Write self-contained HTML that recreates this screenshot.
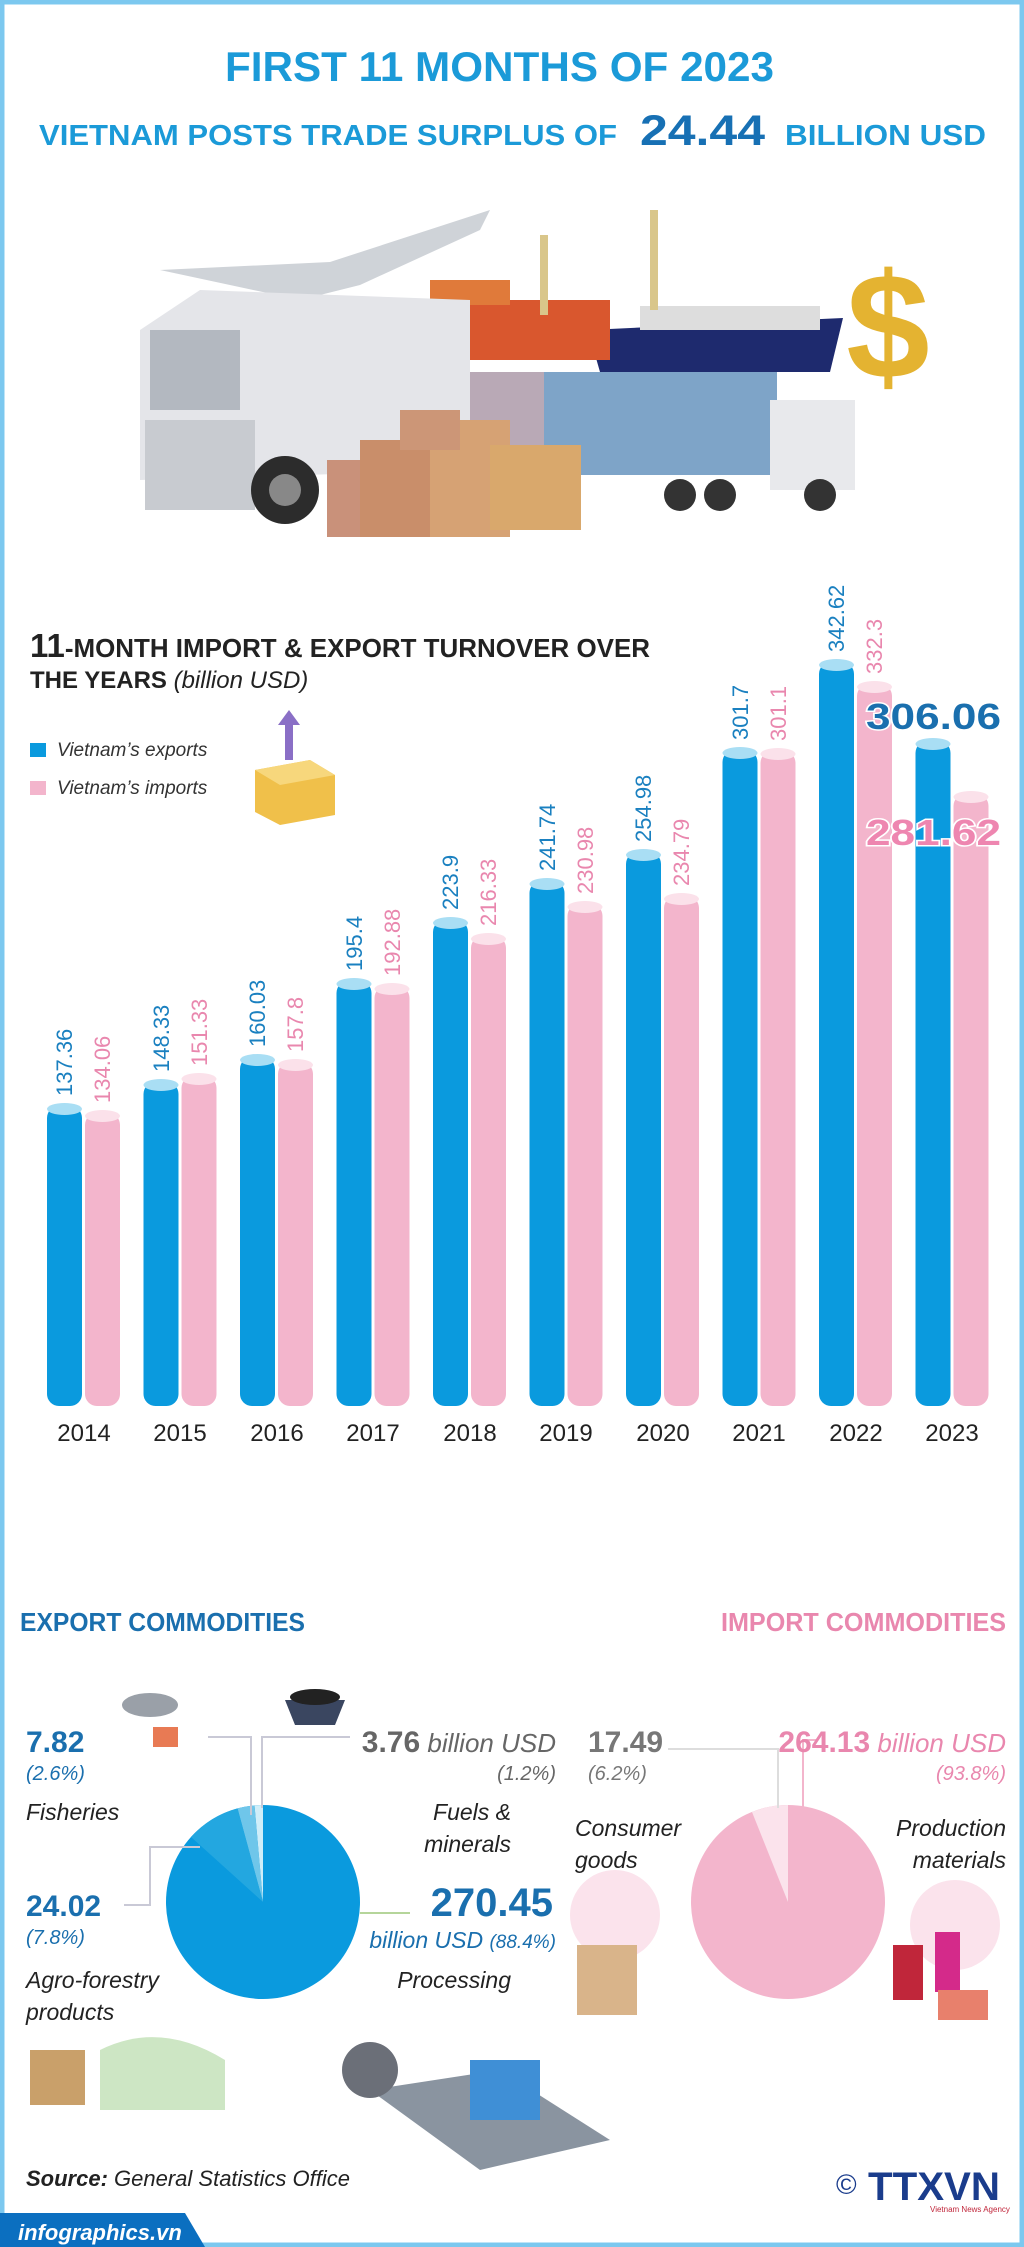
<!DOCTYPE html>
<html><head><meta charset="utf-8"><style>
html,body{margin:0;padding:0;background:#fff}
svg{display:block}
text{font-family:"Liberation Sans",sans-serif}
</style></head><body>
<svg width="1024" height="2247" viewBox="0 0 1024 2247" xmlns="http://www.w3.org/2000/svg">
<rect x="0" y="0" width="1024" height="2247" fill="#fff"/>
<rect x="2" y="2" width="1020" height="2243" fill="none" stroke="#7cc8ef" stroke-width="5"/>

<!-- Title -->
<text x="225" y="81" font-size="42" font-weight="bold" fill="#1b9ad8" textLength="549" lengthAdjust="spacingAndGlyphs">FIRST 11 MONTHS OF 2023</text>
<text x="39" y="145" font-size="29" font-weight="bold" fill="#1b9ad8" textLength="578" lengthAdjust="spacingAndGlyphs">VIETNAM POSTS TRADE SURPLUS OF</text>
<text x="640" y="145" font-size="43" font-weight="bold" fill="#1770b4" textLength="125" lengthAdjust="spacingAndGlyphs">24.44</text>
<text x="785" y="145" font-size="29" font-weight="bold" fill="#1b9ad8" textLength="201" lengthAdjust="spacingAndGlyphs">BILLION USD</text>

<!-- Illustration -->
<g>
  <path d="M588 330 L843 318 L830 372 L600 372 Z" fill="#1e2a6e"/>
  <rect x="640" y="306" width="180" height="24" fill="#ddd"/>
  <rect x="410" y="300" width="200" height="60" fill="#d9572e"/>
  <rect x="430" y="280" width="80" height="25" fill="#e07a3a"/>
  <rect x="650" y="210" width="8" height="100" fill="#d9c68a"/>
  <rect x="540" y="235" width="8" height="80" fill="#d9c68a"/>
  <path d="M160 270 L330 262 L490 210 L480 230 L360 285 L300 300 Z" fill="#cfd3d8"/>
  <rect x="464" y="372" width="313" height="103" fill="#7ea4c8"/>
  <rect x="464" y="372" width="80" height="103" fill="#b9a9b6"/>
  <rect x="770" y="400" width="85" height="90" fill="#e8e9ec"/>
  <circle cx="680" cy="495" r="16" fill="#333"/><circle cx="720" cy="495" r="16" fill="#333"/><circle cx="820" cy="495" r="16" fill="#333"/>
  <path d="M140 330 L200 290 L470 300 L470 470 L140 480 Z" fill="#e4e5e9"/>
  <rect x="150" y="330" width="90" height="80" fill="#b3b8c0"/>
  <rect x="145" y="420" width="110" height="90" fill="#c8cbd0"/>
  <circle cx="285" cy="490" r="34" fill="#2c2c2c"/><circle cx="285" cy="490" r="16" fill="#888"/>
  <rect x="327" y="460" width="90" height="77" fill="#c9917a"/>
  <rect x="360" y="440" width="110" height="97" fill="#c98e6a"/>
  <rect x="430" y="420" width="80" height="117" fill="#d6a274"/>
  <rect x="490" y="445" width="91" height="85" fill="#d9a86c"/>
  <rect x="400" y="410" width="60" height="40" fill="#cc9677"/>
  <text x="888" y="378" font-size="150" font-weight="bold" fill="#e4b331" text-anchor="middle">$</text>
</g>

<!-- Chart title -->
<text x="30" y="657" font-size="26" font-weight="bold" fill="#222" textLength="620" lengthAdjust="spacingAndGlyphs"><tspan font-size="33">11</tspan>-MONTH IMPORT &amp; EXPORT TURNOVER OVER</text>
<text x="30" y="688" font-size="24" font-weight="bold" fill="#222">THE YEARS <tspan font-weight="normal" font-style="italic">(billion USD)</tspan></text>

<rect x="30" y="743" width="16" height="14" fill="#0a9ade"/>
<text x="57" y="756" font-size="19" font-style="italic" fill="#333">Vietnam’s exports</text>
<rect x="30" y="781" width="16" height="14" fill="#f3b5cc"/>
<text x="57" y="794" font-size="19" font-style="italic" fill="#333">Vietnam’s imports</text>
<path d="M255 770 L310 760 L335 775 L335 815 L280 825 L255 812 Z" fill="#f0c04a"/>
<path d="M255 770 L280 785 L335 775 L310 760 Z" fill="#f7d77c"/>
<rect x="285" y="720" width="8" height="40" fill="#8a6fc6"/>
<path d="M278 725 L289 710 L300 725 Z" fill="#8a6fc6"/>

<g>
<rect x="47" y="1106" width="35" height="300" rx="12" fill="#0a9ade"/><ellipse cx="64.5" cy="1109" rx="17.5" ry="6" fill="#a9def4"/>
<rect x="85" y="1113" width="35" height="293" rx="12" fill="#f3b5cc"/><ellipse cx="102.5" cy="1116" rx="17.5" ry="6" fill="#fbe1ea"/>
<rect x="143.5" y="1082" width="35" height="324" rx="12" fill="#0a9ade"/><ellipse cx="161" cy="1085" rx="17.5" ry="6" fill="#a9def4"/>
<rect x="181.5" y="1076" width="35" height="330" rx="12" fill="#f3b5cc"/><ellipse cx="199" cy="1079" rx="17.5" ry="6" fill="#fbe1ea"/>
<rect x="240" y="1057" width="35" height="349" rx="12" fill="#0a9ade"/><ellipse cx="257.5" cy="1060" rx="17.5" ry="6" fill="#a9def4"/>
<rect x="278" y="1062" width="35" height="344" rx="12" fill="#f3b5cc"/><ellipse cx="295.5" cy="1065" rx="17.5" ry="6" fill="#fbe1ea"/>
<rect x="336.5" y="981" width="35" height="425" rx="12" fill="#0a9ade"/><ellipse cx="354" cy="984" rx="17.5" ry="6" fill="#a9def4"/>
<rect x="374.5" y="986" width="35" height="420" rx="12" fill="#f3b5cc"/><ellipse cx="392" cy="989" rx="17.5" ry="6" fill="#fbe1ea"/>
<rect x="433" y="920" width="35" height="486" rx="12" fill="#0a9ade"/><ellipse cx="450.5" cy="923" rx="17.5" ry="6" fill="#a9def4"/>
<rect x="471" y="936" width="35" height="470" rx="12" fill="#f3b5cc"/><ellipse cx="488.5" cy="939" rx="17.5" ry="6" fill="#fbe1ea"/>
<rect x="529.5" y="881" width="35" height="525" rx="12" fill="#0a9ade"/><ellipse cx="547" cy="884" rx="17.5" ry="6" fill="#a9def4"/>
<rect x="567.5" y="904" width="35" height="502" rx="12" fill="#f3b5cc"/><ellipse cx="585" cy="907" rx="17.5" ry="6" fill="#fbe1ea"/>
<rect x="626" y="852" width="35" height="554" rx="12" fill="#0a9ade"/><ellipse cx="643.5" cy="855" rx="17.5" ry="6" fill="#a9def4"/>
<rect x="664" y="896" width="35" height="510" rx="12" fill="#f3b5cc"/><ellipse cx="681.5" cy="899" rx="17.5" ry="6" fill="#fbe1ea"/>
<rect x="722.5" y="750" width="35" height="656" rx="12" fill="#0a9ade"/><ellipse cx="740" cy="753" rx="17.5" ry="6" fill="#a9def4"/>
<rect x="760.5" y="751" width="35" height="655" rx="12" fill="#f3b5cc"/><ellipse cx="778" cy="754" rx="17.5" ry="6" fill="#fbe1ea"/>
<rect x="819" y="662" width="35" height="744" rx="12" fill="#0a9ade"/><ellipse cx="836.5" cy="665" rx="17.5" ry="6" fill="#a9def4"/>
<rect x="857" y="684" width="35" height="722" rx="12" fill="#f3b5cc"/><ellipse cx="874.5" cy="687" rx="17.5" ry="6" fill="#fbe1ea"/>
<rect x="915.5" y="741" width="35" height="665" rx="12" fill="#0a9ade"/><ellipse cx="933" cy="744" rx="17.5" ry="6" fill="#a9def4"/>
<rect x="953.5" y="794" width="35" height="612" rx="12" fill="#f3b5cc"/><ellipse cx="971" cy="797" rx="17.5" ry="6" fill="#fbe1ea"/>
</g>
<g font-size="22">
<text transform="translate(72,1096) rotate(-90)" fill="#1a80c0">137.36</text>
<text transform="translate(110,1103) rotate(-90)" fill="#e987ae">134.06</text>
<text transform="translate(169,1072) rotate(-90)" fill="#1a80c0">148.33</text>
<text transform="translate(207,1066) rotate(-90)" fill="#e987ae">151.33</text>
<text transform="translate(265,1047) rotate(-90)" fill="#1a80c0">160.03</text>
<text transform="translate(303,1052) rotate(-90)" fill="#e987ae">157.8</text>
<text transform="translate(362,971) rotate(-90)" fill="#1a80c0">195.4</text>
<text transform="translate(400,976) rotate(-90)" fill="#e987ae">192.88</text>
<text transform="translate(458,910) rotate(-90)" fill="#1a80c0">223.9</text>
<text transform="translate(496,926) rotate(-90)" fill="#e987ae">216.33</text>
<text transform="translate(555,871) rotate(-90)" fill="#1a80c0">241.74</text>
<text transform="translate(593,894) rotate(-90)" fill="#e987ae">230.98</text>
<text transform="translate(651,842) rotate(-90)" fill="#1a80c0">254.98</text>
<text transform="translate(689,886) rotate(-90)" fill="#e987ae">234.79</text>
<text transform="translate(748,740) rotate(-90)" fill="#1a80c0">301.7</text>
<text transform="translate(786,741) rotate(-90)" fill="#e987ae">301.1</text>
<text transform="translate(844,652) rotate(-90)" fill="#1a80c0">342.62</text>
<text transform="translate(882,674) rotate(-90)" fill="#e987ae">332.3</text>
</g>
<text x="866" y="729" font-size="36" font-weight="bold" fill="#1a6fae" stroke="#fff" stroke-width="3" paint-order="stroke" textLength="135" lengthAdjust="spacingAndGlyphs">306.06</text>
<text x="866" y="845" font-size="36" font-weight="bold" fill="#ee86b0" stroke="#fff" stroke-width="3" paint-order="stroke" textLength="135" lengthAdjust="spacingAndGlyphs">281.62</text>
<g font-size="24" fill="#222" text-anchor="middle">
<text x="84" y="1441">2014</text><text x="180" y="1441">2015</text><text x="277" y="1441">2016</text><text x="373" y="1441">2017</text><text x="470" y="1441">2018</text><text x="566" y="1441">2019</text><text x="663" y="1441">2020</text><text x="759" y="1441">2021</text><text x="856" y="1441">2022</text><text x="952" y="1441">2023</text>
</g>

<text x="20" y="1631" font-size="26" font-weight="bold" fill="#1a6fae" textLength="285" lengthAdjust="spacingAndGlyphs">EXPORT COMMODITIES</text>
<text x="1006" y="1631" font-size="26" font-weight="bold" fill="#e987ae" text-anchor="end" textLength="285" lengthAdjust="spacingAndGlyphs">IMPORT COMMODITIES</text>

<circle cx="263" cy="1902" r="97" fill="#0a9ade"/>
<path d="M263 1902 L263 1805 A97 97 0 0 0 254.5 1805.4 Z" fill="#d0eef9"/>
<path d="M263 1902 L254.5 1805.4 A97 97 0 0 0 237.5 1808.4 Z" fill="#6fc6ea"/>
<path d="M263 1902 L237.5 1808.4 A97 97 0 0 0 191 1837 Z" fill="#23a7e0"/>
<g fill="none" stroke="#c9c9d6" stroke-width="2">
<path d="M208 1737 L251 1737 L251 1815"/>
<path d="M350 1737 L262 1737 L262 1808"/>
<path d="M124 1905 L150 1905 L150 1847 L200 1847"/>
<path d="M360 1913 L410 1913" stroke="#b5d59a"/>
</g>
<text x="26" y="1752" font-size="30" font-weight="bold" fill="#1a6fae">7.82</text>
<text x="26" y="1780" font-size="20" font-style="italic" fill="#1a6fae">(2.6%)</text>
<text x="26" y="1820" font-size="23" font-style="italic" fill="#222">Fisheries</text>
<text x="26" y="1916" font-size="30" font-weight="bold" fill="#1a6fae">24.02</text>
<text x="26" y="1944" font-size="20" font-style="italic" fill="#1a6fae">(7.8%)</text>
<text x="26" y="1988" font-size="23" font-style="italic" fill="#222">Agro-forestry</text>
<text x="26" y="2020" font-size="23" font-style="italic" fill="#222">products</text>

<text x="556" y="1752" font-size="30" text-anchor="end" fill="#666"><tspan font-weight="bold">3.76</tspan><tspan font-style="italic" font-size="26"> billion USD</tspan></text>
<text x="556" y="1780" font-size="20" font-style="italic" text-anchor="end" fill="#666">(1.2%)</text>
<text x="511" y="1820" font-size="23" font-style="italic" text-anchor="end" fill="#222">Fuels &amp;</text>
<text x="511" y="1852" font-size="23" font-style="italic" text-anchor="end" fill="#222">minerals</text>
<text x="553" y="1916" font-size="40" font-weight="bold" text-anchor="end" fill="#1a6fae">270.45</text>
<text x="556" y="1948" font-size="23" font-style="italic" text-anchor="end" fill="#1a6fae">billion USD <tspan font-size="19">(88.4%)</tspan></text>
<text x="511" y="1988" font-size="23" font-style="italic" text-anchor="end" fill="#222">Processing</text>

<circle cx="788" cy="1902" r="97" fill="#f3b5cc"/>
<path d="M788 1902 L788 1805 A97 97 0 0 0 752 1812 Z" fill="#fbe3ec"/>
<g fill="none" stroke="#ddd" stroke-width="2">
<path d="M668 1749 L778 1749 L778 1808"/>
<path d="M816 1740 L803 1740 L803 1808" stroke="#f3b5cc"/>
</g>
<text x="588" y="1752" font-size="30" font-weight="bold" fill="#777">17.49</text>
<text x="588" y="1780" font-size="20" font-style="italic" fill="#777">(6.2%)</text>
<text x="575" y="1836" font-size="23" font-style="italic" fill="#222">Consumer</text>
<text x="575" y="1868" font-size="23" font-style="italic" fill="#222">goods</text>
<text x="1006" y="1752" font-size="30" text-anchor="end" fill="#e987ae"><tspan font-weight="bold">264.13</tspan><tspan font-style="italic" font-size="26"> billion USD</tspan></text>
<text x="1006" y="1780" font-size="20" font-style="italic" text-anchor="end" fill="#e987ae">(93.8%)</text>
<text x="1006" y="1836" font-size="23" font-style="italic" text-anchor="end" fill="#222">Production</text>
<text x="1006" y="1868" font-size="23" font-style="italic" text-anchor="end" fill="#222">materials</text>

<circle cx="615" cy="1915" r="45" fill="#fbe3ec"/>
<rect x="577" y="1945" width="60" height="70" fill="#d9b48a"/>
<circle cx="955" cy="1925" r="45" fill="#fbe3ec"/>
<rect x="893" y="1945" width="30" height="55" fill="#c0263a"/>
<rect x="935" y="1932" width="25" height="60" fill="#d42a8a"/>
<rect x="938" y="1990" width="50" height="30" fill="#e8806c"/>
<ellipse cx="150" cy="1705" rx="28" ry="12" fill="#9aa0a8"/>
<rect x="153" y="1727" width="25" height="20" fill="#e87a54"/>
<path d="M285 1700 L345 1700 L335 1725 L295 1725 Z" fill="#3a4660"/>
<ellipse cx="315" cy="1697" rx="25" ry="8" fill="#222"/>
<rect x="30" y="2050" width="55" height="55" fill="#c9a06a"/>
<path d="M100 2050 Q160 2020 225 2060 L225 2110 L100 2110 Z" fill="#cde6c4"/>
<path d="M370 2090 L500 2070 L610 2140 L480 2170 Z" fill="#8a94a0"/>
<rect x="470" y="2060" width="70" height="60" fill="#3f8fd6"/>
<circle cx="370" cy="2070" r="28" fill="#6b6f78"/>

<text x="26" y="2186" font-size="22" fill="#222"><tspan font-weight="bold" font-style="italic">Source:</tspan><tspan font-style="italic"> General Statistics Office</tspan></text>
<text x="836" y="2194" font-size="28" fill="#1a3c8c">©</text>
<text x="868" y="2200" font-size="40" font-weight="bold" fill="#1a3c8c" textLength="132" lengthAdjust="spacingAndGlyphs">TTXVN</text>
<text x="930" y="2212" font-size="8" fill="#c0263a">Vietnam News Agency</text>

<path d="M0 2213 L185 2213 L205 2247 L0 2247 Z" fill="#0b6fc0"/>
<text x="18" y="2240" font-size="22" font-weight="bold" font-style="italic" fill="#fff">infographics.vn</text>
</svg>
</body></html>
